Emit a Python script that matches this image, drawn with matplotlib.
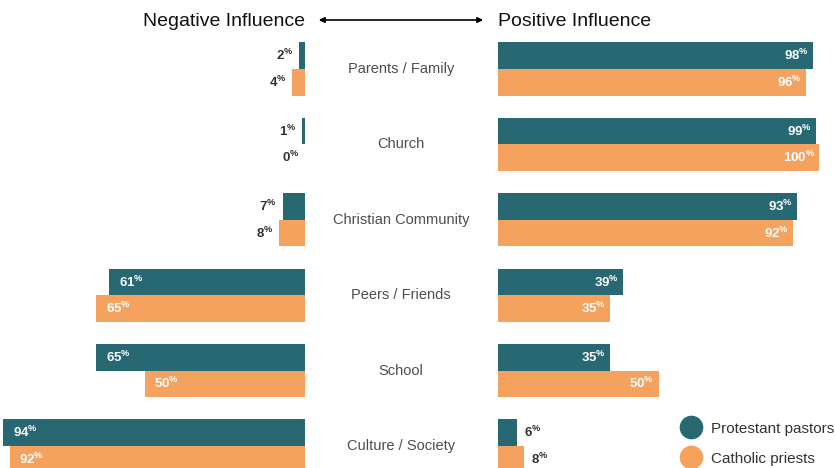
import matplotlib.pyplot as plt
from matplotlib.patches import FancyArrowPatch
from matplotlib.lines import Line2D

plt.rcParams["font.family"] = ["Liberation Sans", "DejaVu Sans"]
plt.rcParams["mathtext.default"] = "regular"

categories = ["Parents / Family", "Church", "Christian Community",
              "Peers / Friends", "School", "Culture / Society"]
neg_protestant = [2, 1, 7, 61, 65, 94]
neg_catholic = [4, 0, 8, 65, 50, 92]
pos_protestant = [98, 99, 93, 39, 35, 6]
pos_catholic = [96, 100, 92, 35, 50, 8]
series_names = ["Protestant pastors", "Catholic priests"]

TEAL = "#276873"
ORANGE = "#f6a25f"
colors = [TEAL, ORANGE]

W, H = 835, 468
fig = plt.figure(figsize=(W / 100, H / 100), dpi=100)

# px scale: 3.21 px per percent
scale = 3.21
span = 100 * scale
ax_l = fig.add_axes([(305 - span) / W, 0, span / W, 1])
ax_r = fig.add_axes([498 / W, 0, span / W, 1])

pitch = 75.4
top = -69 / pitch
bottom = (H - 69) / pitch
bh = 0.352

for ax in (ax_l, ax_r):
    ax.set_ylim(bottom, top)
    ax.axis("off")
ax_l.set_xlim(100, 0)
ax_r.set_xlim(0, 100)


def pct(v):
    return f"{v}$^{{\\%}}$"


for ax, data, side in ((ax_l, (neg_protestant, neg_catholic), "l"),
                       (ax_r, (pos_protestant, pos_catholic), "r")):
    for k, vals in enumerate(data):
        off = -bh / 2 if k == 0 else bh / 2
        for i, v in enumerate(vals):
            y = i + off
            ax.barh(y, v, height=bh, color=colors[k], linewidth=0)
            inside = v >= 20
            if side == "l":
                if inside:
                    ax.annotate(pct(v), (v, y), xytext=(7, 0), textcoords="offset points",
                                ha="left", va="center", color="white", fontsize=9.5,
                                fontweight="bold")
                else:
                    ax.annotate(pct(v), (v, y), xytext=(-4, 0), textcoords="offset points",
                                ha="right", va="center", color="#333333", fontsize=9.5,
                                fontweight="bold")
            else:
                if inside:
                    ax.annotate(pct(v), (v, y), xytext=(-3, 0), textcoords="offset points",
                                ha="right", va="center", color="white", fontsize=9.5,
                                fontweight="bold")
                else:
                    ax.annotate(pct(v), (v, y), xytext=(5, 0), textcoords="offset points",
                                ha="left", va="center", color="#333333", fontsize=9.5,
                                fontweight="bold")

# category labels centred between panels
for i, c in enumerate(categories):
    ax_r.annotate(c, (0, i), xytext=(-(498 - 401) * 0.72, 0), textcoords="offset points",
                  ha="center", va="center", color="#4d4d4d", fontsize=10.5)

# header
fig.text(305 / W, 1 - 21 / H, "Negative Influence", ha="right", va="center",
         fontsize=14, color="#111111")
fig.text(498 / W, 1 - 21 / H, "Positive Influence", ha="left", va="center",
         fontsize=14, color="#111111")
arrow = FancyArrowPatch((316 / W, 1 - 20 / H), (486 / W, 1 - 20 / H),
                        transform=fig.transFigure, arrowstyle="<|-|>",
                        mutation_scale=8, color="black", linewidth=1.2)
fig.patches.append(arrow)

# legend
handles = [Line2D([0], [0], marker="o", linestyle="none", markersize=16,
                  markerfacecolor=c, markeredgecolor=c) for c in colors]
fig.legend(handles, series_names, loc="upper left", bbox_to_anchor=(674 / W, 1 - 414 / H),
           frameon=False, fontsize=11, labelcolor="#333333", handletextpad=0.7,
           labelspacing=1.05, borderpad=0, handlelength=1.2)

fig.savefig("out.png", dpi=100)
